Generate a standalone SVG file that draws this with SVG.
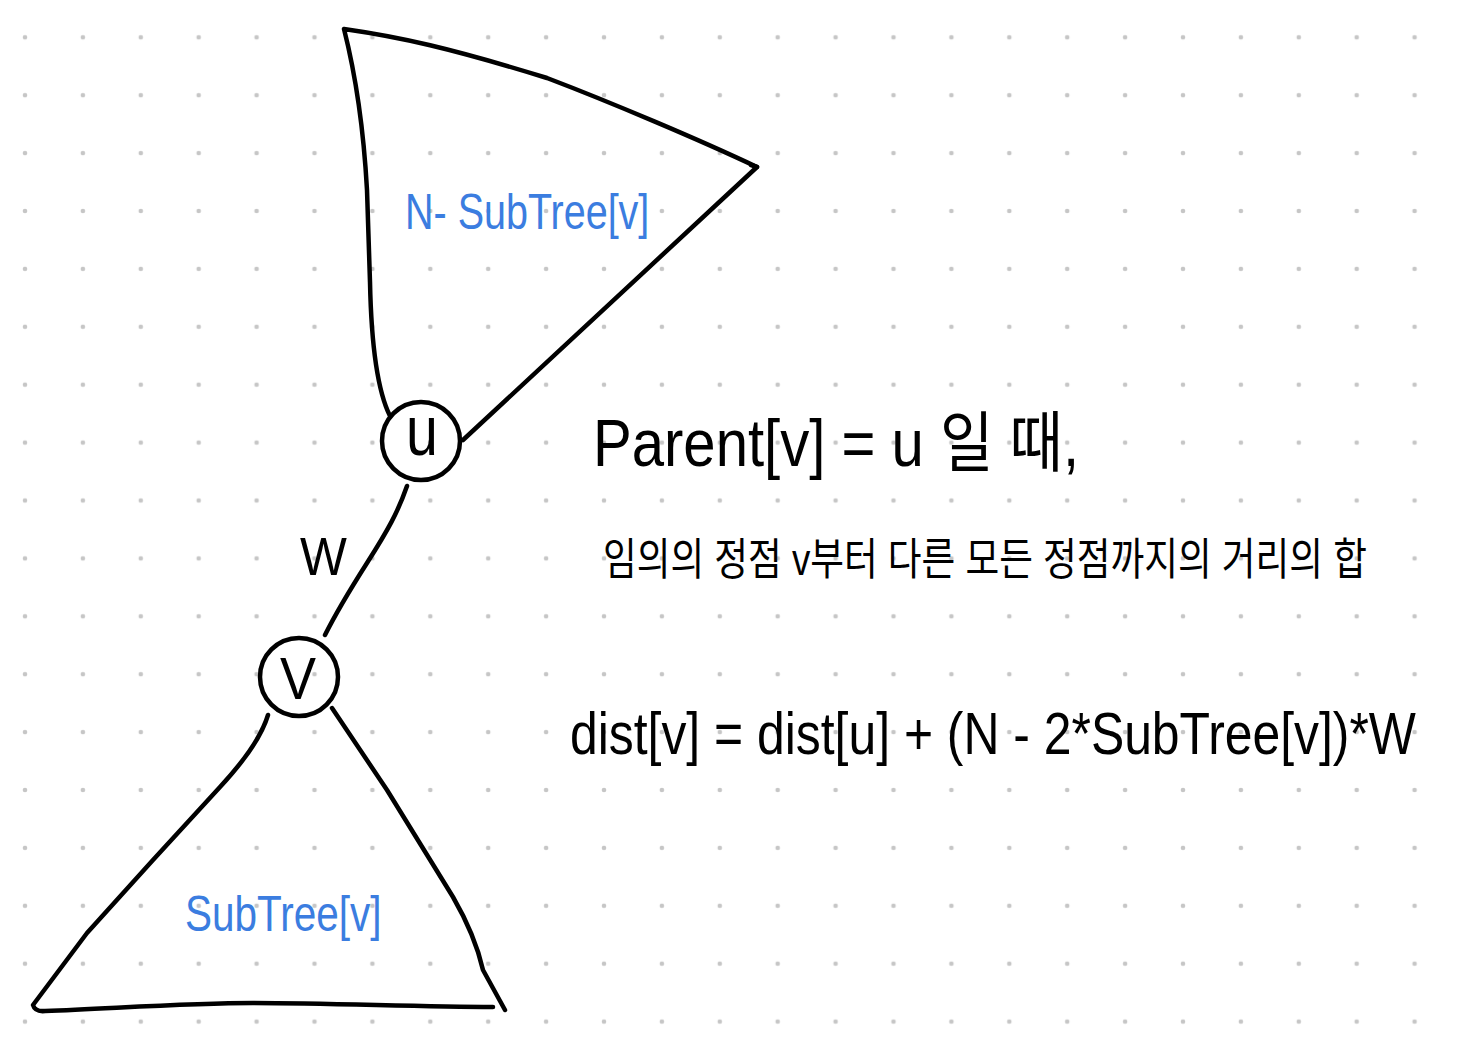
<svg xmlns="http://www.w3.org/2000/svg" width="1469" height="1052" viewBox="0 0 1469 1052">
  <defs>
    <pattern id="dots" patternUnits="userSpaceOnUse" x="-3.95" y="8.35" width="57.9" height="57.9">
      <circle cx="28.95" cy="28.95" r="2.3" fill="#c6c6c6"/>
    </pattern>
    <style>
      .ink { fill: none; stroke: #000; stroke-width: 4.5; stroke-linecap: round; stroke-linejoin: round; }
      .blue { fill: #3b7de0; font-family: "Liberation Sans", "Noto Sans", sans-serif; }
      .txt { fill: #000; font-family: "Liberation Sans", "Noto Sans CJK KR", sans-serif; }
      .lbl { fill: #000; font-family: "Liberation Sans", sans-serif; text-anchor: middle; }
    </style>
  </defs>
  <rect width="1469" height="1052" fill="#fff"/>
  <rect width="1469" height="1052" fill="url(#dots)"/>

  <g id="connectors">
    <path class="ink" d="M407,486 C398,512 388,530 367,563 S335,615 325,635"/>
  </g>

  <g id="tree-upper">
    <path class="ink" d="M390,416 Q372,380 370,282 L367,190 Q362,100 344,29 C400,37 450,48 547,78 C610,102 700,140 757,167"/>
    <path class="ink" d="M751,165 L757,167 L743,180 L463,440"/>
    <text class="blue" transform="translate(405,229) scale(0.79,1)" font-size="50">N- SubTree[v]</text>
  </g>

  <g id="node-u">
    <circle class="ink" cx="421" cy="441" r="39"/>
    <text class="lbl" transform="translate(422,455) scale(0.82,1)" font-size="70">u</text>
  </g>

  <g id="label-w">
    <text class="txt" transform="translate(300,575) scale(0.92,1)" font-size="54">W</text>
  </g>

  <g id="node-v">
    <circle class="ink" cx="299" cy="677" r="39"/>
    <text class="lbl" transform="translate(298,699) scale(0.9,1)" font-size="60">V</text>
  </g>

  <g id="tree-lower">
    <path class="ink" d="M268,715 C262,735 245,760 220,787 L153,860 L87,933 L33,1005 Q35,1012 45,1011 C120,1008 190,1003 253,1003 C330,1003 420,1007 493,1007"/>
    <path class="ink" d="M332,708 L387,790 L453,897 Q475,935 483,970 L505,1010"/>
    <text class="blue" transform="translate(185,931) scale(0.81,1)" font-size="50">SubTree[v]</text>
  </g>

  <g id="notes">
    <text class="txt" transform="translate(593,466) scale(0.88,1)" font-size="66">Parent[v] = u 일 때,</text>
    <text class="txt" transform="translate(603,575) scale(0.833,1)" font-size="44">임의의 정점 v부터 다른 모든 정점까지의 거리의 합</text>
    <text class="txt" transform="translate(570,754) scale(0.831,1)" font-size="60">dist[v] = dist[u] + (N - 2*SubTree[v])*W</text>
  </g>
</svg>
